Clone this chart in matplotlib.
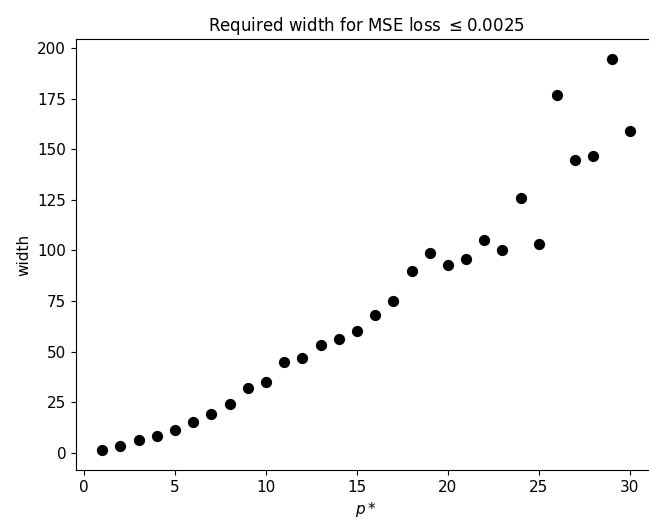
import matplotlib
matplotlib.use("Agg")
import matplotlib.pyplot as plt

p_star = list(range(1, 31))
width = [1, 3, 6, 8, 11, 15, 19, 24, 32, 35,
         45, 47, 53, 56, 60, 68, 75, 90, 99, 93,
         96, 105, 100, 126, 103, 177, 145, 147, 195, 159]

fig = plt.figure(figsize=(6.49, 5.20), dpi=100)
ax = fig.add_axes([0.117, 0.096, 0.894, 0.829])
ax.scatter(p_star, width, color="black", s=50)
ax.set_title(r"Required width for MSE loss $\leq 0.0025$", fontsize=12)
ax.set_xlabel(r"$p*$", fontsize=11)
ax.set_ylabel("width", fontsize=11)
ax.tick_params(labelsize=11)
ax.set_xticks([0, 5, 10, 15, 20, 25, 30])
ax.set_yticks([0, 25, 50, 75, 100, 125, 150, 175, 200])
fig.savefig("out.png", dpi=100)
